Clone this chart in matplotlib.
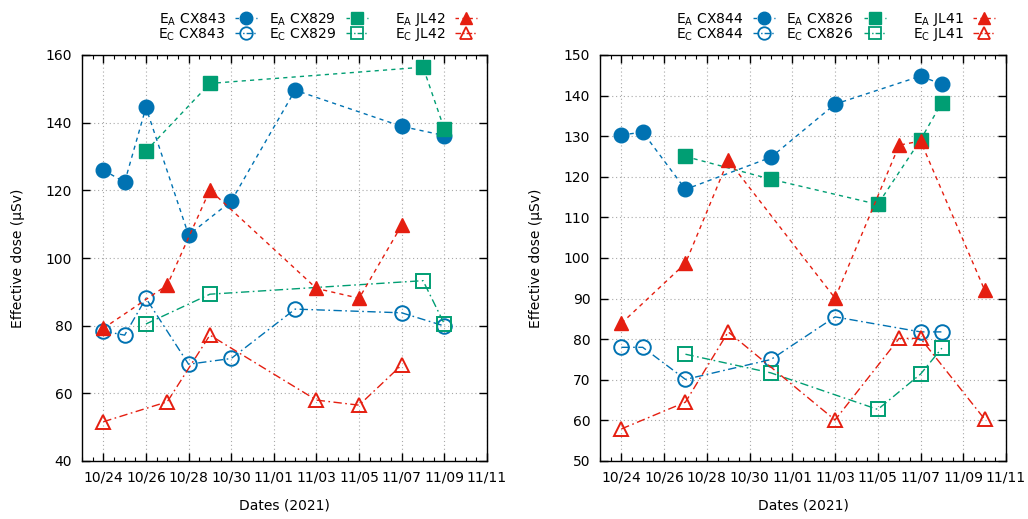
import matplotlib
matplotlib.use("Agg")
import matplotlib.pyplot as plt
import matplotlib.dates as mdates
from matplotlib.lines import Line2D
import pandas as pd

plt.rcParams['font.family'] = ['DejaVu Sans']
plt.rcParams['mathtext.fontset'] = 'dejavusans'

# ---- Left panel data ----
cx843_dates = ['2021-10-24', '2021-10-25', '2021-10-26', '2021-10-28', '2021-10-30', '2021-11-02', '2021-11-07', '2021-11-09']
ea_cx843 = [126.0, 122.4, 144.5, 106.8, 116.8, 149.6, 138.9, 136.2]
ec_cx843 = [78.4, 77.2, 88.1, 68.6, 70.3, 84.9, 83.8, 79.9]
cx829_dates = ['2021-10-26', '2021-10-29', '2021-11-08', '2021-11-09']
ea_cx829 = [131.6, 151.6, 156.4, 138.1]
ec_cx829 = [80.5, 89.3, 93.3, 80.5]
jl42_dates = ['2021-10-24', '2021-10-27', '2021-10-29', '2021-11-03', '2021-11-05', '2021-11-07']
ea_jl42 = [79.2, 92.0, 120.1, 91.0, 88.1, 109.7]
ec_jl42 = [51.6, 57.5, 77.2, 58.0, 56.5, 68.4]

# ---- Right panel data ----
cx844_dates = ['2021-10-24', '2021-10-25', '2021-10-27', '2021-10-31', '2021-11-03', '2021-11-07', '2021-11-08']
ea_cx844 = [130.3, 131.0, 116.9, 124.8, 137.9, 144.8, 142.8]
ec_cx844 = [78.0, 78.0, 70.1, 75.0, 85.5, 81.8, 81.8]
cx826_dates = ['2021-10-27', '2021-10-31', '2021-11-05', '2021-11-07', '2021-11-08']
ea_cx826 = [125.0, 119.4, 113.2, 129.1, 138.3]
ec_cx826 = [76.3, 71.7, 62.7, 71.4, 77.8]
jl41_dates = ['2021-10-24', '2021-10-27', '2021-10-29', '2021-11-03', '2021-11-06', '2021-11-07', '2021-11-10']
ea_jl41 = [83.9, 98.7, 124.1, 90.1, 127.8, 128.8, 92.1]
ec_jl41 = [57.9, 64.5, 81.8, 60.1, 80.2, 80.2, 60.3]

BLUE = '#0072b2'
GREEN = '#009e73'
RED = '#e51e10'
DASH = (0, (3, 3))
DASHDOT = (0, (6, 2.5, 1.2, 2.5))
W, H = 1028, 519

fig = plt.figure(figsize=(W / 100, H / 100), dpi=100)
axL = fig.add_axes([82 / W, 1 - 461 / H, 405 / W, 406 / H])
axR = fig.add_axes([600 / W, 1 - 461 / H, 406 / W, 406 / H])


def key(ax_left_px, series):
    text_ends = [143.5, 253.5, 363.5]
    mk_off = [163.5, 275.0, 383.5]
    for i, (name, _, _, _, color, mk) in enumerate(series):
        for row, (sub, filled, ls) in enumerate([('A', True, DASH), ('C', False, DASHDOT)]):
            yb = 23.3 + 15 * row
            ym = 18.3 + 15 * row
            fig.text((ax_left_px + text_ends[i]) / W, 1 - yb / H,
                     r'E$_\mathrm{%s}$ %s' % (sub, name), ha='right', va='baseline',
                     fontsize=10)
            xm = ax_left_px + mk_off[i]
            fig.add_artist(Line2D([(xm - 11) / W, (xm + 11) / W], [1 - ym / H] * 2,
                                  transform=fig.transFigure, color=color, lw=1.0,
                                  linestyle=(0, (2.5, 2.5)) if filled else (0, (4, 1.5, 1, 1.5))))
            ms = 9.0 if mk != 's' else 8.3
            fig.add_artist(Line2D([xm / W], [1 - ym / H], transform=fig.transFigure,
                                  linestyle='none', marker=mk, markersize=ms,
                                  markerfacecolor=color if filled else 'none',
                                  markeredgecolor=color,
                                  markeredgewidth=1.0 if filled else 1.3))


def draw(ax, series, ylim, ystep):
    for name, dates, ea, ec, color, mk in series:
        d = pd.to_datetime(dates)
        ms = 10.5 if mk != 's' else 9.5
        ax.plot(d, ea, linestyle=DASH, color=color, lw=1.0, marker=mk,
                markersize=ms, markerfacecolor=color, markeredgecolor=color)
        ax.plot(d, ec, linestyle=DASHDOT, color=color, lw=1.0, marker=mk,
                markersize=ms, markerfacecolor='none', markeredgecolor=color,
                markeredgewidth=1.4)
    ax.set_xlim(pd.Timestamp('2021-10-23'), pd.Timestamp('2021-11-11'))
    ax.set_ylim(*ylim)
    ax.set_yticks(range(ylim[0], ylim[1] + 1, ystep))
    ax.xaxis.set_major_locator(mdates.DayLocator(bymonthday=[24, 26, 28, 30, 1, 3, 5, 7, 9, 11]))
    ax.xaxis.set_minor_locator(mdates.HourLocator(byhour=[0, 12]))
    ax.xaxis.set_major_formatter(mdates.DateFormatter('%m/%d'))
    ax.tick_params(axis='both', which='both', direction='in', top=True, right=True,
                   labelsize=10, pad=7)
    ax.tick_params(axis='both', which='major', length=6, width=1)
    ax.tick_params(axis='x', which='minor', length=3, width=0.8)
    ax.grid(True, which='major', linestyle=(0, (1, 2.5)), color='#a8a8a8', lw=0.8)
    for s in ax.spines.values():
        s.set_linewidth(1.0)
    ax.set_xlabel('Dates (2021)', fontsize=10, labelpad=10)
    ax.set_ylabel('Effective dose (μSv)', fontsize=10, labelpad=15)


left_series = [('CX843', cx843_dates, ea_cx843, ec_cx843, BLUE, 'o'),
               ('CX829', cx829_dates, ea_cx829, ec_cx829, GREEN, 's'),
               ('JL42', jl42_dates, ea_jl42, ec_jl42, RED, '^')]
right_series = [('CX844', cx844_dates, ea_cx844, ec_cx844, BLUE, 'o'),
                ('CX826', cx826_dates, ea_cx826, ec_cx826, GREEN, 's'),
                ('JL41', jl41_dates, ea_jl41, ec_jl41, RED, '^')]

draw(axL, left_series, (40, 160), 20)
draw(axR, right_series, (50, 150), 10)
key(82, left_series)
key(600, right_series)

fig.savefig('out.png', dpi=100)
